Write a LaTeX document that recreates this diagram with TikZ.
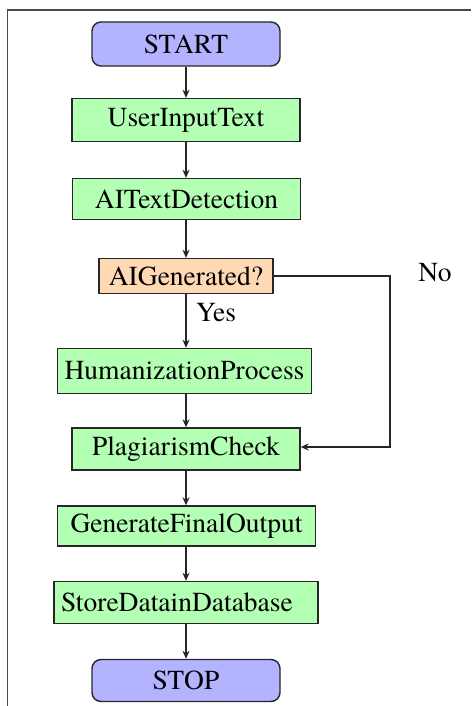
\documentclass[tikz,border=0pt]{standalone}
\usepackage{fontspec}
\setmainfont{texgyretermes-regular.otf}
\usetikzlibrary{arrows.meta}
\definecolor{termfill}{HTML}{B3B3FF}
\definecolor{procfill}{HTML}{B3FFB3}
\definecolor{decfill}{HTML}{FFD9B3}
\definecolor{framegray}{HTML}{4A4A4A}
\tikzset{
  base/.style={draw=black!85, line width=1.4pt, inner sep=0pt, align=center,
    font=\fontsize{27.5}{31}\selectfont},
  terminal/.style={base, rectangle, rounded corners=9pt, fill=termfill},
  process/.style={base, rectangle, fill=procfill},
  decision/.style={base, rectangle, fill=decfill},
  flow/.style={draw=black!85, line width=1.4pt, -{Stealth[length=8pt, width=7pt, inset=2.5pt]}},
  lbl/.style={font=\fontsize{27.5}{31}\selectfont, inner sep=0pt}
}
\begin{document}
\begin{tikzpicture}[x=1pt, y=-1pt]
  \useasboundingbox (0,0) rectangle (471,706);
  % outer frame, cut off at the right and bottom edges
  \draw[framegray, line width=1.6pt] (7.5,706) -- (7.5,10) -- (471,10);

  % flow steps
  \node[terminal, minimum width=188pt, minimum height=44pt] (start) at (186,44) {START};
  \node[process, minimum width=228pt, minimum height=43pt] (input) at (186,120) {UserInputText};
  \node[process, minimum width=228pt, minimum height=41pt] (detect) at (186.5,199) {AITextDetection};
  \node[decision, minimum width=174pt, minimum height=35pt] (aigen) at (186,276) {AIGenerated?};
  \node[process, minimum width=254pt, minimum height=45pt] (human) at (184.5,371) {HumanizationProcess};
  \node[process, minimum width=228pt, minimum height=42pt] (plag) at (186,449) {PlagiarismCheck};
  \node[process, minimum width=258pt, minimum height=40pt] (final) at (186.5,526) {GenerateFinalOutput};
  \node[process, minimum width=264pt, minimum height=42pt] (store) at (186,602.5) {StoreDatainDatabase\hspace{18pt}};
  \node[terminal, minimum width=188pt, minimum height=42pt] (stop) at (186,680.5) {STOP};

  % branch labels
  \node[lbl] (yeslbl) at (216,313) {Yes};
  \node[lbl] (nolbl) at (435,273) {No};

  % main vertical flow, all on one axis
  \coordinate (axis) at (186,0);
  \draw[flow] (axis |- start.south) -- (axis |- input.north);
  \draw[flow] (axis |- input.south) -- (axis |- detect.north);
  \draw[flow] (axis |- detect.south) -- (axis |- aigen.north);
  \draw[flow] (axis |- aigen.south) -- (axis |- human.north);
  \draw[flow] (axis |- human.south) -- (axis |- plag.north);
  \draw[flow] (axis |- plag.south) -- (axis |- final.north);
  \draw[flow] (axis |- final.south) -- (axis |- store.north);
  \draw[flow] (axis |- store.south) -- (axis |- stop.north);

  % "No" branch bypassing the humanization step
  \coordinate (noturn) at (390,276);
  \draw[flow] (aigen.east) -- (noturn) |- ([yshift=2pt]plag.east);
\end{tikzpicture}
\end{document}
